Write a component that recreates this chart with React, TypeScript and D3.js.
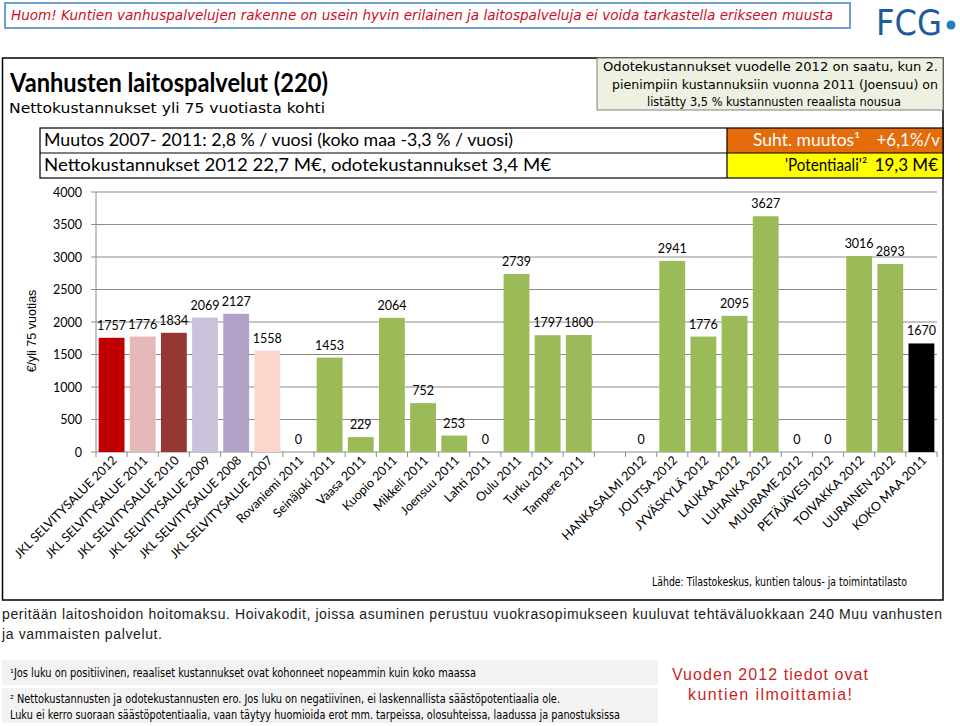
import * as d3 from 'd3';

const categories = [
  'JKL SELVITYSALUE 2012', 'JKL SELVITYSALUE 2011', 'JKL SELVITYSALUE 2010', 'JKL SELVITYSALUE 2009',
  'JKL SELVITYSALUE 2008', 'JKL SELVITYSALUE 2007', 'Rovaniemi 2011', 'Seinäjoki 2011', 'Vaasa 2011',
  'Kuopio 2011', 'Mikkeli 2011', 'Joensuu 2011', 'Lahti 2011', 'Oulu 2011', 'Turku 2011', 'Tampere 2011',
  '', 'HANKASALMI 2012', 'JOUTSA 2012', 'JYVÄSKYLÄ 2012', 'LAUKAA 2012', 'LUHANKA 2012', 'MUURAME 2012',
  'PETÄJÄVESI 2012', 'TOIVAKKA 2012', 'UURAINEN 2012', 'KOKO MAA 2011'
];
const values: (number | null)[] = [
  1757, 1776, 1834, 2069, 2127, 1558, 0, 1453, 229, 2064, 752, 253, 0, 2739, 1797, 1800,
  null, 0, 2941, 1776, 2095, 3627, 0, 0, 3016, 2893, 1670
];
const yTicks = [0, 500, 1000, 1500, 2000, 2500, 3000, 3500, 4000];

const specialColors: Record<string, string> = {
  'JKL SELVITYSALUE 2012': '#c00000',
  'JKL SELVITYSALUE 2011': '#e6b9b8',
  'JKL SELVITYSALUE 2010': '#953735',
  'JKL SELVITYSALUE 2009': '#ccc1da',
  'JKL SELVITYSALUE 2008': '#b3a2c7',
  'JKL SELVITYSALUE 2007': '#fcd5cc',
  'KOKO MAA 2011': '#000000'
};
const green = '#9bbb59';

const calibri = 'Lato, "Open Sans", sans-serif';
const narrow = '"Liberation Sans Narrow", "DejaVu Sans Condensed", "Liberation Sans", sans-serif';
const arial = '"Liberation Sans", Arial, sans-serif';

const plotLeft = 96, plotRight = 937, plotTop = 192, plotBottom = 452;

export default function App() {
  const x = d3.scaleBand<number>()
    .domain(d3.range(categories.length))
    .range([plotLeft, plotRight])
    .paddingInner(0.17)
    .paddingOuter(0.085);
  const y = d3.scaleLinear().domain([0, 4000]).range([plotBottom, plotTop]);
  const step = (plotRight - plotLeft) / categories.length;
  const bounds = d3.range(categories.length + 1).map(i => plotLeft + i * step);

  return (
    <svg width={960} height={726} style={{ position: 'absolute', left: 0, top: 0, background: '#fff' }}>
      {/* banner */}
      <rect x={5} y={3} width={845} height={25} fill="#fff" stroke="#6f9fd2" strokeWidth={2} />
      <text x={11} y={20} fontFamily={narrow} fontStyle="italic" fontSize={14.5} fill="#c8102e"
        textLength={822} lengthAdjust="spacingAndGlyphs">
        Huom! Kuntien vanhuspalvelujen rakenne on usein hyvin erilainen ja laitospalveluja ei voida tarkastella erikseen muusta
      </text>
      {/* logo */}
      <text x={876} y={35} fontFamily={narrow} fontSize={36} fill="#1d5b9e" textLength={66}
        lengthAdjust="spacingAndGlyphs">FCG</text>
      <circle cx={951} cy={25} r={4.5} fill="#1f7fc4" />

      {/* outer frame */}
      <rect x={2.5} y={58} width={940.5} height={542} fill="none" stroke="#000" strokeWidth={1.5} />

      <text x={10} y={92} fontFamily={calibri} fontWeight="bold" fontSize={26} fill="#000"
        textLength={318} lengthAdjust="spacingAndGlyphs">Vanhusten laitospalvelut (220)</text>
      <text x={9} y={113} fontFamily={narrow} fontSize={14.5} fill="#000"
        textLength={316} lengthAdjust="spacingAndGlyphs">Nettokustannukset  yli 75 vuotiasta kohti</text>

      {/* info box */}
      <rect x={597} y={58} width={346} height={52} fill="#eef1e2" stroke="#7f7f7f" strokeWidth={1} />
      <g fontFamily={narrow} fontSize={13} fill="#000">
        <text x={603} y={71} textLength={335} lengthAdjust="spacingAndGlyphs">Odotekustannukset vuodelle 2012 on saatu, kun 2.</text>
        <text x={612} y={89} textLength={326} lengthAdjust="spacingAndGlyphs">pienimpiin kustannuksiin vuonna 2011 (Joensuu) on</text>
        <text x={647} y={106} textLength={254} lengthAdjust="spacingAndGlyphs">listätty 3,5 % kustannusten reaalista nousua</text>
      </g>

      {/* summary table */}
      <rect x={727} y={128} width={216} height={25} fill="#e46c0a" />
      <rect x={727} y={153} width={216} height={25} fill="#ffff00" />
      <rect x={40} y={128} width={903} height={50} fill="none" stroke="#000" strokeWidth={1.2} />
      <line x1={40} x2={943} y1={153} y2={153} stroke="#000" strokeWidth={1.2} />
      <line x1={727} x2={727} y1={128} y2={178} stroke="#000" strokeWidth={1.2} />
      <g fontFamily={calibri} fontSize={17} fill="#000">
        <text x={44} y={146} textLength={469} lengthAdjust="spacingAndGlyphs">
          Muutos 2007- 2011: 2,8 % / vuosi (koko maa -3,3 % / vuosi)
        </text>
        <text x={44} y={171} textLength={507} lengthAdjust="spacingAndGlyphs">
          Nettokustannukset 2012 22,7 M€, odotekustannukset 3,4 M€
        </text>
        <text x={753} y={146} fill="#fff" textLength={107} lengthAdjust="spacingAndGlyphs">Suht. muutos¹</text>
        <text x={940} y={146} textAnchor="end" fill="#fff">+6,1%/v</text>
        <text x={785} y={171} textLength={82} lengthAdjust="spacingAndGlyphs">'Potentiaali'²</text>
        <text x={938} y={171} textAnchor="end">19,3 M€</text>
      </g>

      {/* grid and axes */}
      {yTicks.map(t => (
        <g key={t}>
          <line x1={plotLeft - 5} x2={plotRight} y1={y(t)} y2={y(t)} stroke="#8c8c8c" strokeWidth={1} />
          <text x={82} y={y(t) + 4.5} textAnchor="end" fontFamily={calibri} fontSize={12.5} fill="#000">{t}</text>
        </g>
      ))}
      <line x1={plotLeft} x2={plotLeft} y1={plotTop} y2={plotBottom} stroke="#8c8c8c" />
      {bounds.map((bx, i) => (
        <line key={i} x1={bx} x2={bx} y1={plotBottom} y2={plotBottom + 5} stroke="#8c8c8c" />
      ))}
      <text transform={`translate(36,${(plotTop + plotBottom) / 2 + 9}) rotate(-90)`} textAnchor="middle"
        fontFamily={arial} fontSize={12.5} fill="#000">€/yli 75 vuotias</text>

      {/* bars */}
      {values.map((v, i) => v === null ? null : (
        <g key={i}>
          {v > 0 && (
            <rect x={x(i)} y={y(v)} width={x.bandwidth()} height={plotBottom - y(v)}
              fill={specialColors[categories[i]] ?? green} />
          )}
          <text x={(x(i) ?? 0) + x.bandwidth() / 2} y={y(v) - 8} textAnchor="middle"
            fontFamily={calibri} fontSize={12.5} fill="#000">{v}</text>
        </g>
      ))}

      {/* category labels */}
      {categories.map((c, i) => (
        <text key={i} transform={`translate(${(x(i) ?? 0) + x.bandwidth() / 2 + 6},${plotBottom + 9}) rotate(-45)`}
          textAnchor="end" fontFamily={calibri} fontSize={12.5} fill="#000">{c}</text>
      ))}

      <text x={652} y={586} fontFamily={narrow} fontSize={12} fill="#000" textLength={255}
        lengthAdjust="spacingAndGlyphs">Lähde: Tilastokeskus, kuntien talous- ja toimintatilasto</text>

      {/* text below */}
      <g fontFamily={arial} fontSize={14} fill="#1a1a1a">
        <text x={2} y={619} textLength={940} lengthAdjust="spacing">
          peritään laitoshoidon hoitomaksu. Hoivakodit, joissa asuminen perustuu vuokrasopimukseen kuuluvat tehtäväluokkaan 240 Muu vanhusten
        </text>
        <text x={2} y={639} textLength={160} lengthAdjust="spacing">ja vammaisten palvelut.</text>
      </g>

      {/* footnotes */}
      <rect x={2} y={660} width={656} height={25} fill="#f2f2f2" />
      <rect x={2} y={688} width={656} height={35} fill="#f2f2f2" />
      <g fontFamily={narrow} fontSize={11.5} fill="#000">
        <text x={10} y={677} textLength={466} lengthAdjust="spacingAndGlyphs">
          ¹Jos luku on positiivinen, reaaliset kustannukset ovat kohonneet nopeammin kuin koko maassa
        </text>
        <text x={10} y={703} textLength={550} lengthAdjust="spacingAndGlyphs">
          ² Nettokustannusten ja odotekustannusten ero. Jos luku on negatiivinen, ei laskennallista säästöpotentiaalia ole.
        </text>
        <text x={10} y={719} textLength={610} lengthAdjust="spacingAndGlyphs">
          Luku ei kerro suoraan säästöpotentiaalia, vaan täytyy huomioida erot mm. tarpeissa, olosuhteissa, laadussa ja panostuksissa
        </text>
      </g>
      <g fontFamily={arial} fontSize={16} fill="#cc1f1f">
        <text x={672} y={680} textLength={196} lengthAdjust="spacing">Vuoden 2012 tiedot ovat</text>
        <text x={688} y={700} textLength={164} lengthAdjust="spacing">kuntien ilmoittamia!</text>
      </g>
    </svg>
  );
}
